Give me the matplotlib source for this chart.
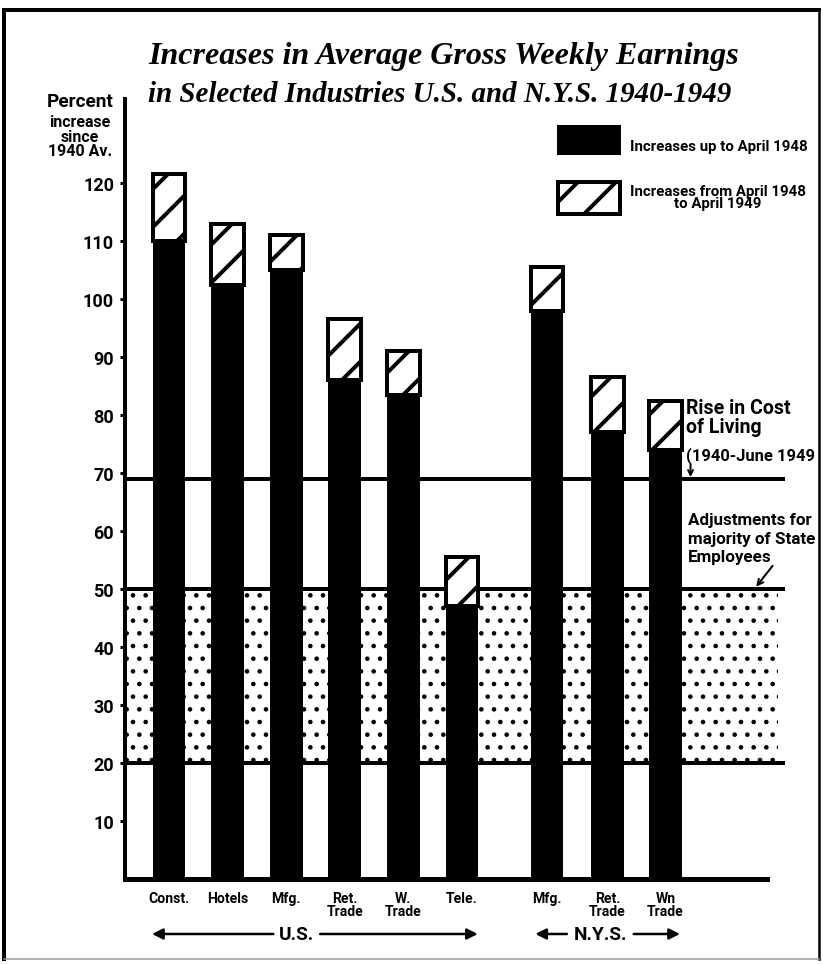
import matplotlib
matplotlib.use('Agg')
import matplotlib.pyplot as plt
from matplotlib.patches import Rectangle
from matplotlib.lines import Line2D
from matplotlib import font_manager as fm
from matplotlib.transforms import blended_transform_factory

# ---------------- data ----------------
categories = ['Const.', 'Hotels', 'Mfg.', 'Ret.\nTrade', 'W.\nTrade', 'Tele.',
              'Mfg.', 'Ret.\nTrade', 'Wn\nTrade']
up_to_april_1948 = [110, 102.5, 105, 86, 83.5, 47, 98, 77, 74]
total_to_april_1949 = [121.5, 113, 111, 96.5, 91, 55.5, 105.5, 86.5, 82.5]
bar_positions = [0, 1, 2, 3, 4, 5, 6.45, 7.48, 8.47]
yticks = [10, 20, 30, 40, 50, 60, 70, 80, 90, 100, 110, 120]
cost_of_living_rise = 69
state_adjust_low = 20
state_adjust_high = 50
group_labels = ['U.S.', 'N.Y.S.']
legend_labels = ['Increases up to April 1948', 'Increases from April 1948\nto April 1949']
title_lines = ['Increases in Average Gross Weekly Earnings',
               'in Selected Industries U.S. and N.Y.S. 1940-1949']

# ---------------- setup ----------------
DPI = 228
W, H = 823, 966
P = 72.0 / DPI  # points per pixel

names = {f.name for f in fm.fontManager.ttflist}
COND = 'Liberation Sans Narrow' if 'Liberation Sans Narrow' in names else 'Roboto'
SERIF = 'Liberation Serif'

plt.rcParams['hatch.linewidth'] = 4 * P
plt.rcParams['font.family'] = [COND, 'DejaVu Sans']


def fx(px):
    return px / W


def fy(py):
    return 1 - py / H


fig = plt.figure(figsize=(W / DPI, H / DPI), dpi=DPI)
fig.patch.set_facecolor('white')

ax = fig.add_axes([fx(125), fy(880), fx(785) - fx(125), (880 - 100) / H])
XMIN, XMAX = -0.751, 10.512
ax.set_xlim(XMIN, XMAX)
ax.set_ylim(0, 134.5)

# dotted band (state employees adjustments)
band = Rectangle((XMIN, state_adjust_low), 10.39 - XMIN,
                 state_adjust_high - state_adjust_low,
                 facecolor='white', edgecolor='black', linewidth=0,
                 hatch='...', zorder=1)
if hasattr(band, 'set_hatch_linewidth'):
    band.set_hatch_linewidth(2.0 * P)
ax.add_patch(band)

# reference lines
ax.hlines([cost_of_living_rise, state_adjust_high, state_adjust_low], XMIN, 10.51,
          colors='black', linewidth=4 * P, zorder=2, clip_on=False)

# bars
increase = [t - b for t, b in zip(total_to_april_1949, up_to_april_1948)]
ax.bar(bar_positions, up_to_april_1948, width=0.56, color='black', zorder=3)
ax.bar(bar_positions, increase, bottom=up_to_april_1948, width=0.56,
       facecolor='white', edgecolor='black', linewidth=4 * P,
       hatch='//', zorder=3)

# axes styling
for s in ['top', 'right']:
    ax.spines[s].set_visible(False)
ax.spines['left'].set_linewidth(4 * P)
ax.spines['bottom'].set_linewidth(5 * P)
ax.spines['bottom'].set_bounds(XMIN, 10.2)
ax.spines['bottom'].set_zorder(4)

ax.set_yticks(yticks)
ax.tick_params(axis='y', direction='out', length=5 * P, width=3 * P, pad=6 * P,
               labelsize=18 * P)
for lbl in ax.get_yticklabels():
    lbl.set_fontweight('bold')

ax.set_xticks(bar_positions, categories)
ax.tick_params(axis='x', length=0, pad=12 * P, labelsize=14 * P)
for lbl in ax.get_xticklabels():
    lbl.set_fontweight('bold')
    lbl.set_linespacing(0.95)

# group arrows
tr = blended_transform_factory(ax.transData, ax.transAxes)
yg = -0.0705
arrow_kw = dict(arrowstyle='-|>', color='black', lw=2.5 * P,
                mutation_scale=22 * P, shrinkA=0, shrinkB=0)
ax.annotate('', xy=(-0.29, yg), xytext=(1.78, yg), xycoords=tr, textcoords=tr,
            arrowprops=arrow_kw, annotation_clip=False)
ax.annotate('', xy=(5.27, yg), xytext=(2.58, yg), xycoords=tr, textcoords=tr,
            arrowprops=arrow_kw, annotation_clip=False)
ax.text(2.18, yg, group_labels[0], transform=tr, ha='center', va='center',
        fontsize=19 * P, fontweight='bold')
ax.annotate('', xy=(6.25, yg), xytext=(6.79, yg), xycoords=tr, textcoords=tr,
            arrowprops=arrow_kw, annotation_clip=False)
ax.annotate('', xy=(8.72, yg), xytext=(7.93, yg), xycoords=tr, textcoords=tr,
            arrowprops=arrow_kw, annotation_clip=False)
ax.text(7.36, yg, group_labels[1], transform=tr, ha='center', va='center',
        fontsize=19 * P, fontweight='bold')

# annotations on the right
ax.text(8.83, 83.0, 'Rise in Cost\nof Living', ha='left', va='top',
        fontsize=19.5 * P, fontweight='bold', linespacing=1.05, zorder=5)
ax.text(8.83, 73.2, '(1940-June 1949', ha='left', va='center',
        fontsize=16.5 * P, fontweight='bold', zorder=5)
ax.annotate('', xy=(8.90, cost_of_living_rise + 0.3), xytext=(8.90, 71.5),
            arrowprops=dict(arrowstyle='->', color='black', lw=2 * P,
                            mutation_scale=12 * P, shrinkA=0, shrinkB=0))
ax.text(8.86, 63.3, 'Adjustments for\nmajority of State\nEmployees', ha='left', va='top',
        fontsize=17 * P, fontweight='bold', linespacing=1.3, zorder=5)
ax.annotate('', xy=(10.02, state_adjust_high + 0.4), xytext=(10.3, 54.0),
            arrowprops=dict(arrowstyle='->', color='black', lw=2 * P,
                            mutation_scale=14 * P, shrinkA=0, shrinkB=0))

# y-axis label
fig.text(fx(80), fy(102), 'Percent', ha='center', va='center', fontsize=19 * P,
         fontweight='bold')
fig.text(fx(80), fy(137), 'increase\nsince\n1940 Av.', ha='center', va='center',
         fontsize=16 * P, fontweight='bold', linespacing=0.92)

# title
title_sizes = [32, 29]
for i, line in enumerate(title_lines):
    fig.text(fx(148), fy(64 + 38 * i), line, ha='left', va='baseline',
             fontsize=title_sizes[i] * P, fontstyle='italic', fontweight='bold',
             family=[SERIF, 'DejaVu Serif'])

# legend (manual)
fig.add_artist(Rectangle((fx(558), fy(155)), fx(62), 28 / H, transform=fig.transFigure,
                         facecolor='black', edgecolor='black', linewidth=2 * P))
lg = Rectangle((fx(558), fy(215)), fx(62), 32 / H, transform=fig.transFigure,
               facecolor='white', edgecolor='black', linewidth=4 * P, hatch='//')
fig.add_artist(lg)
fig.text(fx(630), fy(147), legend_labels[0], ha='left', va='center',
         fontsize=15 * P, fontweight='bold')
fig.text(fx(718), fy(198), legend_labels[1], ha='center', va='center',
         fontsize=15 * P, fontweight='bold', multialignment='center', linespacing=0.9)

# frame border
fig.add_artist(Line2D([fx(4), fx(4)], [fy(12), fy(960)], transform=fig.transFigure,
                      color='black', lw=4 * P))
fig.add_artist(Line2D([fx(4), fx(819)], [fy(11), fy(11)], transform=fig.transFigure,
                      color='black', lw=4 * P))
fig.add_artist(Line2D([fx(819), fx(819)], [fy(11), fy(960)], transform=fig.transFigure,
                      color='black', lw=2.5 * P))
fig.add_artist(Line2D([fx(4), fx(819)], [fy(960), fy(960)], transform=fig.transFigure,
                      color='#999999', lw=1.5 * P))

fig.savefig('out.png', dpi=DPI, facecolor='white')
